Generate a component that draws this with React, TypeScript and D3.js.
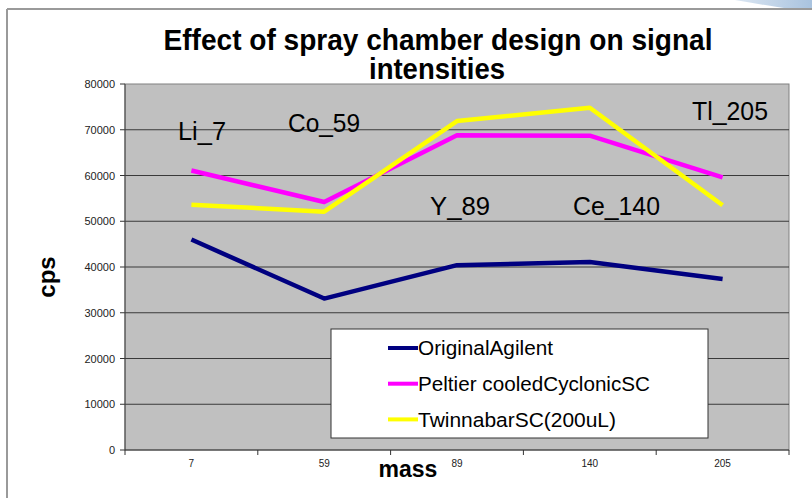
import React from "react";
import * as d3 from "d3";

const categories = ["7", "59", "89", "140", "205"];
const elements = ["Li_7", "Co_59", "Y_89", "Ce_140", "Tl_205"];
const seriesNames = ["OriginalAgilent", "Peltier cooledCyclonicSC", "TwinnabarSC(200uL)"];
const originalAgilent = [46000, 33100, 40400, 41100, 37400];
const peltierCyclonic = [61100, 54200, 68800, 68700, 59600];
const twinnabar = [53600, 52100, 71900, 74800, 53500];
const yTicks = [0, 10000, 20000, 30000, 40000, 50000, 60000, 70000, 80000];
const colors = ["#000080", "#ff00ff", "#ffff00"];
// label anchor: category index and value at the text baseline
const labelCat = [0, 1, 2, 3, 4];
const labelVal = [67800, 69500, 51400, 51400, 72100];

export default function App() {
  const W = 812, H = 498;
  const left = 125, right = 789, top = 84, bottom = 450;
  const x = d3.scaleBand().domain(categories).range([left, right]);
  const y = d3.scaleLinear().domain([0, 80000]).range([bottom, top]);
  const cx = (c: string) => (x(c) as number) + x.bandwidth() / 2;
  const line = d3.line<[string, number]>().x((d) => cx(d[0])).y((d) => y(d[1]));
  const allSeries = [originalAgilent, peltierCyclonic, twinnabar];
  const font = "Liberation Sans, Arial, sans-serif";
  const bounds = [...categories.map((c) => x(c) as number), right];
  const labelDx = [-13.4, -36.2, -27, -16.8, -30.6];
  const labelW = [48, 72, 60, 87, 76];
  const legendW = [135, 232, 198];

  return (
    <svg width={W} height={H} style={{ position: "absolute", left: 0, top: 0 }} fontFamily={font}>
      <rect x={0} y={0} width={W} height={H} fill="#ffffff" />
      <defs>
        <linearGradient id="sw" x1="0" y1="0" x2="1" y2="0">
          <stop offset="0" stopColor="#dbe6f2" />
          <stop offset="1" stopColor="#a9c3df" />
        </linearGradient>
      </defs>
      <path d="M735,0 L812,0 L812,9 L790,9 Q770,6 735,0 Z" fill="url(#sw)" />
      <path d="M7,9 L812,9 M7,9 L7,498" stroke="#9a9a9a" strokeWidth={2} fill="none" />

      <text x={438} y={50} textAnchor="middle" fontSize={29} fontWeight="bold" textLength={549} lengthAdjust="spacingAndGlyphs">
        Effect of spray chamber design on signal
      </text>
      <text x={437} y={79} textAnchor="middle" fontSize={29} fontWeight="bold" textLength={136} lengthAdjust="spacingAndGlyphs">
        intensities
      </text>

      <rect x={left} y={top} width={right - left} height={bottom - top} fill="#c0c0c0" stroke="#808080" strokeWidth={1} />
      {yTicks.map((t) => (
        <g key={t}>
          {t > 0 && t < 80000 && <line x1={left} x2={right} y1={y(t)} y2={y(t)} stroke="#3a3a3a" strokeWidth={1} />}
          <line x1={left - 5} x2={left} y1={y(t)} y2={y(t)} stroke="#333" strokeWidth={1} />
          <text x={left - 10} y={y(t) + 4} textAnchor="end" fontSize={11} fill="#222">
            {t}
          </text>
        </g>
      ))}
      <line x1={left} x2={left} y1={top} y2={bottom} stroke="#444" strokeWidth={1} />
      <line x1={left} x2={right} y1={bottom} y2={bottom} stroke="#333" strokeWidth={1.2} />
      {bounds.map((b, i) => (
        <line key={i} x1={b} x2={b} y1={bottom} y2={bottom + 5} stroke="#333" strokeWidth={1} />
      ))}
      {categories.map((c) => (
        <text key={c} x={cx(c)} y={467} textAnchor="middle" fontSize={10} fill="#222">
          {c}
        </text>
      ))}

      {allSeries.map((s, i) => (
        <path
          key={i}
          d={line(categories.map((c, j) => [c, s[j]] as [string, number])) as string}
          fill="none"
          stroke={colors[i]}
          strokeWidth={4.5}
          strokeLinejoin="round"
        />
      ))}

      {elements.map((e, i) => {
        const c = categories[labelCat[i]];
        return (
          <text
            key={e}
            x={cx(c) + labelDx[i]}
            y={y(labelVal[i])}
            fontSize={25}
            fill="#000"
            textLength={labelW[i]}
            lengthAdjust="spacingAndGlyphs"
          >
            {e}
          </text>
        );
      })}

      <g>
        <rect x={331} y={329} width={377} height={109} fill="#ffffff" stroke="#333" strokeWidth={1} />
        {seriesNames.map((n, i) => (
          <g key={n}>
            <line x1={388} x2={418} y1={348 + i * 35.7} y2={348 + i * 35.7} stroke={colors[i]} strokeWidth={4} />
            <text x={418} y={355 + i * 36} fontSize={20.5} fill="#000" textLength={legendW[i]} lengthAdjust="spacingAndGlyphs">
              {n}
            </text>
          </g>
        ))}
      </g>

      <text transform="translate(55,277) rotate(-90)" textAnchor="middle" fontSize={24} fontWeight="bold">
        cps
      </text>
      <text x={408} y={477} textAnchor="middle" fontSize={23} fontWeight="bold">
        mass
      </text>
    </svg>
  );
}
